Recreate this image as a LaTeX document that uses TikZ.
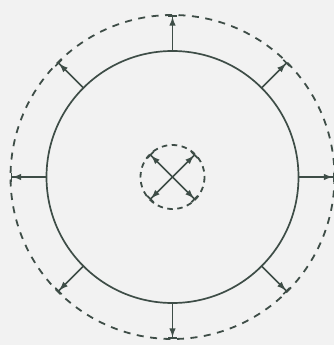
\documentclass[tikz,border=0pt]{standalone}
\usetikzlibrary{arrows.meta}
\definecolor{ink}{HTML}{3E4D47}
\definecolor{bg}{HTML}{F2F2F2}
\begin{document}
\begin{tikzpicture}[x=1pt,y=-1pt,
  ring/.style={draw=ink,line width=1.7pt},
  dashring/.style={draw=ink,line width=1.8pt,dash pattern=on 7pt off 6.5pt},
  smallring/.style={draw=ink,line width=1.8pt,dash pattern=on 5.5pt off 4.5pt},
  push/.style={draw=ink,line width=1.6pt,-{Latex[length=9pt,width=6.5pt]Bar[width=9pt,line width=1.6pt]}}]
\fill[bg] (0,0) rectangle (334,345);
\useasboundingbox (0,0) rectangle (334,345);
\coordinate (C) at (172.5,177);
\draw[ring] (C) circle[radius=126];
\draw[dashring] (C) circle[radius=162];
\draw[smallring] (C) circle[radius=32];
\foreach \a in {0,45,...,315}{
  \coordinate (i\a) at ([shift={(\a:126)}]C);
  \coordinate (o\a) at ([shift={(\a:162)}]C);
  \draw[push] (i\a) -- (o\a);
}
\foreach \a in {45,135,225,315}{
  \coordinate (m\a) at ([shift={(\a:32)}]C);
  \draw[push] (C) -- (m\a);
}
\end{tikzpicture}
\end{document}
